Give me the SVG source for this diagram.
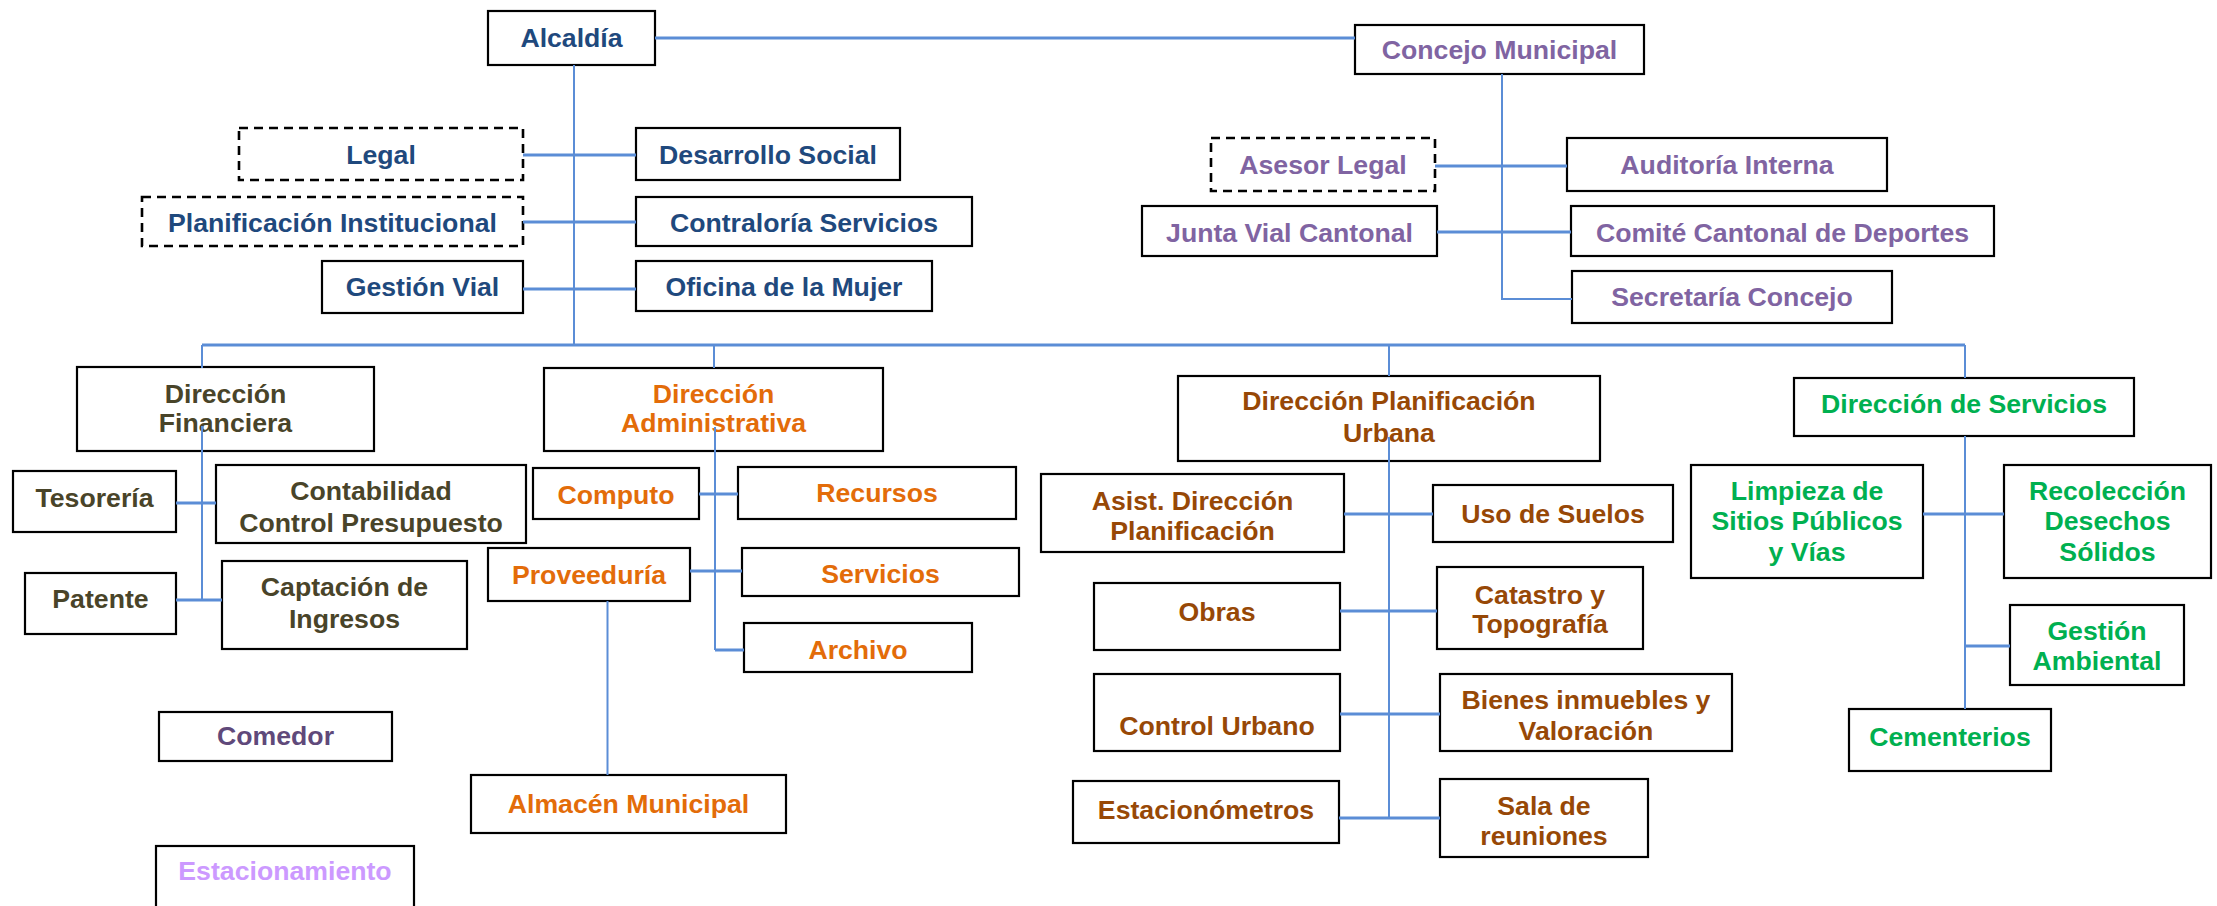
<svg xmlns="http://www.w3.org/2000/svg" width="2217" height="906" viewBox="0 0 2217 906">
<style>
  .b{fill:#fff;stroke:#000;stroke-width:2.2}
  .d{fill:#fff;stroke:#000;stroke-width:2.6;stroke-dasharray:9 6}
  text{font-family:"Liberation Sans",Arial,sans-serif;font-weight:bold;font-size:26.67px;text-anchor:middle}
  .navy{fill:#1F497D}
  .purple{fill:#8064A2}
  .olive{fill:#494429}
  .orange{fill:#E36C09}
  .brown{fill:#974806}
  .green{fill:#00B050}
  .dpurple{fill:#5F497A}
  .lilac{fill:#CC99FF}
  .c line, .c polyline{stroke:#5B8DD6;fill:none}
  .h{stroke-width:3}
  .v{stroke-width:2}
</style>
<rect width="2217" height="906" fill="#fff"/>
<g id="alcaldia"><rect class="b" x="488" y="11" width="167" height="54"/><text class="navy" x="571.5" y="47">Alcaldía</text></g>
<g id="legal"><rect class="d" x="239" y="128" width="284" height="52"/><text class="navy" x="381" y="163.5">Legal</text></g>
<g id="desarrollo"><rect class="b" x="636" y="128" width="264" height="52"/><text class="navy" x="768" y="163.5">Desarrollo Social</text></g>
<g id="planinst"><rect class="d" x="142" y="197" width="381" height="49"/><text class="navy" x="332.5" y="231.5">Planificación Institucional</text></g>
<g id="contraloria"><rect class="b" x="636" y="197" width="336" height="49"/><text class="navy" x="804" y="231.5">Contraloría Servicios</text></g>
<g id="gestionvial"><rect class="b" x="322" y="261" width="201" height="52"/><text class="navy" x="422.5" y="295.5">Gestión Vial</text></g>
<g id="oficina"><rect class="b" x="636" y="261" width="296" height="50"/><text class="navy" x="784" y="295.5">Oficina de la Mujer</text></g>
<g id="concejo"><rect class="b" x="1355" y="25" width="289" height="49"/><text class="purple" x="1499.5" y="59">Concejo Municipal</text></g>
<g id="asesor"><rect class="d" x="1211" y="138" width="224" height="53"/><text class="purple" x="1323" y="174">Asesor Legal</text></g>
<g id="auditoria"><rect class="b" x="1567" y="138" width="320" height="53"/><text class="purple" x="1727" y="174">Auditoría Interna</text></g>
<g id="junta"><rect class="b" x="1142" y="206" width="295" height="50"/><text class="purple" x="1289.5" y="241.5">Junta Vial Cantonal</text></g>
<g id="comite"><rect class="b" x="1571" y="206" width="423" height="50"/><text class="purple" x="1782.5" y="241.5">Comité Cantonal de Deportes</text></g>
<g id="secretaria"><rect class="b" x="1572" y="271" width="320" height="52"/><text class="purple" x="1732" y="306">Secretaría Concejo</text></g>
<g id="dirfin"><rect class="b" x="77" y="367" width="297" height="84"/><text class="olive" x="225.5" y="403">Dirección</text><text class="olive" x="225.5" y="432">Financiera</text></g>
<g id="tesoreria"><rect class="b" x="13" y="471" width="163" height="61"/><text class="olive" x="94.5" y="507">Tesorería</text></g>
<g id="contabilidad"><rect class="b" x="216" y="465" width="310" height="78"/><text class="olive" x="371" y="500">Contabilidad</text><text class="olive" x="371" y="532">Control Presupuesto</text></g>
<g id="patente"><rect class="b" x="25" y="573" width="151" height="61"/><text class="olive" x="100.5" y="607.5">Patente</text></g>
<g id="captacion"><rect class="b" x="222" y="561" width="245" height="88"/><text class="olive" x="344.5" y="596">Captación de</text><text class="olive" x="344.5" y="628">Ingresos</text></g>
<g id="comedor"><rect class="b" x="159" y="712" width="233" height="49"/><text class="dpurple" x="275.5" y="745">Comedor</text></g>
<g id="estacionamiento"><rect class="b" x="156" y="846" width="258" height="80"/><text class="lilac" x="285" y="880">Estacionamiento</text></g>
<g id="diradm"><rect class="b" x="544" y="368" width="339" height="83"/><text class="orange" x="713.5" y="403">Dirección</text><text class="orange" x="713.5" y="432">Administrativa</text></g>
<g id="computo"><rect class="b" x="533" y="468" width="166" height="51"/><text class="orange" x="616" y="503.5">Computo</text></g>
<g id="recursos"><rect class="b" x="738" y="467" width="278" height="52"/><text class="orange" x="877" y="501.5">Recursos</text></g>
<g id="proveeduria"><rect class="b" x="488" y="548" width="202" height="53"/><text class="orange" x="589" y="583.5">Proveeduría</text></g>
<g id="servicios"><rect class="b" x="742" y="548" width="277" height="48"/><text class="orange" x="880.5" y="582.5">Servicios</text></g>
<g id="archivo"><rect class="b" x="744" y="623" width="228" height="49"/><text class="orange" x="858" y="658.5">Archivo</text></g>
<g id="almacen"><rect class="b" x="471" y="775" width="315" height="58"/><text class="orange" x="628.5" y="812.5">Almacén Municipal</text></g>
<g id="dirplan"><rect class="b" x="1178" y="376" width="422" height="85"/><text class="brown" x="1389" y="410">Dirección Planificación</text><text class="brown" x="1389" y="442">Urbana</text></g>
<g id="asist"><rect class="b" x="1041" y="474" width="303" height="78"/><text class="brown" x="1192.5" y="510">Asist. Dirección</text><text class="brown" x="1192.5" y="539.5">Planificación</text></g>
<g id="uso"><rect class="b" x="1433" y="485" width="240" height="57"/><text class="brown" x="1553" y="522.5">Uso de Suelos</text></g>
<g id="obras"><rect class="b" x="1094" y="583" width="246" height="67"/><text class="brown" x="1217" y="621">Obras</text></g>
<g id="catastro"><rect class="b" x="1437" y="567" width="206" height="82"/><text class="brown" x="1540" y="603.5">Catastro y</text><text class="brown" x="1540" y="633">Topografía</text></g>
<g id="control"><rect class="b" x="1094" y="674" width="246" height="77"/><text class="brown" x="1217" y="735">Control Urbano</text></g>
<g id="bienes"><rect class="b" x="1440" y="674" width="292" height="77"/><text class="brown" x="1586" y="708.5">Bienes inmuebles y</text><text class="brown" x="1586" y="739.5">Valoración</text></g>
<g id="estacionometros"><rect class="b" x="1073" y="781" width="266" height="62"/><text class="brown" x="1206" y="818.5">Estacionómetros</text></g>
<g id="sala"><rect class="b" x="1440" y="779" width="208" height="78"/><text class="brown" x="1544" y="815">Sala de</text><text class="brown" x="1544" y="845">reuniones</text></g>
<g id="dirserv"><rect class="b" x="1794" y="378" width="340" height="58"/><text class="green" x="1964" y="413">Dirección de Servicios</text></g>
<g id="limpieza"><rect class="b" x="1691" y="465" width="232" height="113"/><text class="green" x="1807" y="499.5">Limpieza de</text><text class="green" x="1807" y="530">Sitios Públicos</text><text class="green" x="1807" y="560.5">y Vías</text></g>
<g id="recoleccion"><rect class="b" x="2004" y="465" width="207" height="113"/><text class="green" x="2107.5" y="499.5">Recolección</text><text class="green" x="2107.5" y="530">Desechos</text><text class="green" x="2107.5" y="560.5">Sólidos</text></g>
<g id="gestionamb"><rect class="b" x="2010" y="605" width="174" height="80"/><text class="green" x="2097" y="640">Gestión</text><text class="green" x="2097" y="670">Ambiental</text></g>
<g id="cementerios"><rect class="b" x="1849" y="709" width="202" height="62"/><text class="green" x="1950" y="746">Cementerios</text></g>
<g class="c" id="connectors">
  <line class="h" x1="655" y1="38" x2="1355" y2="38"/>
  <line class="v" x1="574" y1="65" x2="574" y2="345"/>
  <line class="h" x1="523" y1="155" x2="636" y2="155"/>
  <line class="h" x1="523" y1="222" x2="636" y2="222"/>
  <line class="h" x1="523" y1="289" x2="636" y2="289"/>
  <line class="h" x1="202" y1="345" x2="1965" y2="345"/>
  <line class="v" x1="202" y1="345" x2="202" y2="368"/>
  <line class="v" x1="714" y1="345" x2="714" y2="368"/>
  <line class="v" x1="1389" y1="345" x2="1389" y2="376"/>
  <line class="v" x1="1965" y1="345" x2="1965" y2="378"/>
  <polyline class="v" points="1502,74 1502,299 1572,299"/>
  <line class="h" x1="1435" y1="166" x2="1567" y2="166"/>
  <line class="h" x1="1437" y1="232" x2="1571" y2="232"/>
  <line class="v" x1="202" y1="426" x2="202" y2="600"/>
  <line class="h" x1="176" y1="503" x2="216" y2="503"/>
  <line class="h" x1="176" y1="600" x2="222" y2="600"/>
  <line class="v" x1="715" y1="427" x2="715" y2="650"/>
  <line class="h" x1="699" y1="494" x2="738" y2="494"/>
  <line class="h" x1="690" y1="571" x2="742" y2="571"/>
  <line class="h" x1="715" y1="650" x2="744" y2="650"/>
  <line class="v" x1="607.5" y1="601" x2="607.5" y2="775"/>
  <line class="v" x1="1389" y1="437" x2="1389" y2="818"/>
  <line class="h" x1="1344" y1="514" x2="1433" y2="514"/>
  <line class="h" x1="1340" y1="611" x2="1437" y2="611"/>
  <line class="h" x1="1340" y1="714" x2="1440" y2="714"/>
  <line class="h" x1="1339" y1="818" x2="1440" y2="818"/>
  <line class="v" x1="1965" y1="436" x2="1965" y2="709"/>
  <line class="h" x1="1923" y1="514" x2="2004" y2="514"/>
  <line class="h" x1="1965" y1="646" x2="2010" y2="646"/>
</g>
</svg>
